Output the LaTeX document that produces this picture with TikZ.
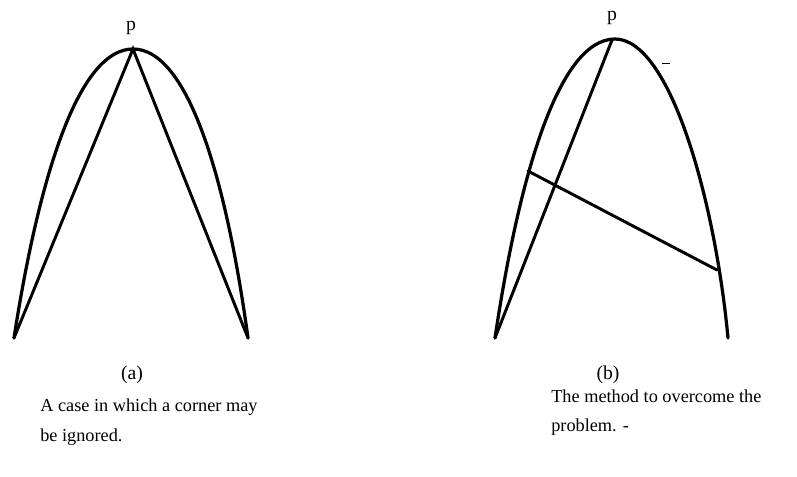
\documentclass[tikz,border=0pt]{standalone}
\usepackage{fontspec}
\setmainfont{Liberation Serif}
\usepackage{tikz}
\usetikzlibrary{positioning}

\begin{document}
\begin{tikzpicture}[
    x=0.025cm, y=-0.025cm,
    arcline/.style={line width=2.3pt, line cap=round, black},
    chord/.style={line width=2.1pt, line cap=round, black},
    ptlabel/.style={font=\fontsize{14}{16}\selectfont, inner sep=1pt},
    caplabel/.style={font=\fontsize{13}{15}\selectfont, inner sep=0pt, anchor=west}
]
    \useasboundingbox (0,0) rectangle (797,476);

    % (a) corner ignored
    \coordinate (aL) at (14,338);
    \coordinate (aP) at (133,49);
    \coordinate (aR) at (248,338);
    \draw[arcline] (aL) .. controls (40,170) and (80,49) .. (aP)
                        .. controls (186,49) and (225,170) .. (aR);
    \draw[chord] (aL) -- (aP) -- (aR);
    \node[ptlabel] (pa) at (131,28) {p};
    \node[ptlabel] (capa) at (132,375) {(a)};
    \node[caplabel] (txa1) at (40,407) {A case in which a corner may};
    \node[caplabel] (txa2) at (40,437) {be ignored.};

    % (b) the method
    \coordinate (bL) at (495,338);
    \coordinate (bP) at (612,40);
    \coordinate (bT) at (615,39);
    \coordinate (bR) at (728,338);
    \coordinate (bC1) at (528,171);
    \coordinate (bC2) at (717,270);
    \draw[arcline] (bL) .. controls (520,170) and (560,39) .. (bT)
                        .. controls (670,39) and (715,200) .. (bR);
    \draw[chord] (bL) -- (bP);
    \draw[chord] (bC1) -- (bC2);
    \coordinate (mk1) at (662,63);
    \coordinate (mk2) at (670,63);
    \draw[line width=0.6pt] (mk1) -- (mk2);
    \node[ptlabel] (pb) at (612,18) {p};
    \node[ptlabel] (capb) at (608,375) {(b)};
    \node[caplabel] (txb1) at (551,396) {The method to overcome the};
    \node[caplabel] (txb2) at (551,427) {problem. -};
\end{tikzpicture}
\end{document}
